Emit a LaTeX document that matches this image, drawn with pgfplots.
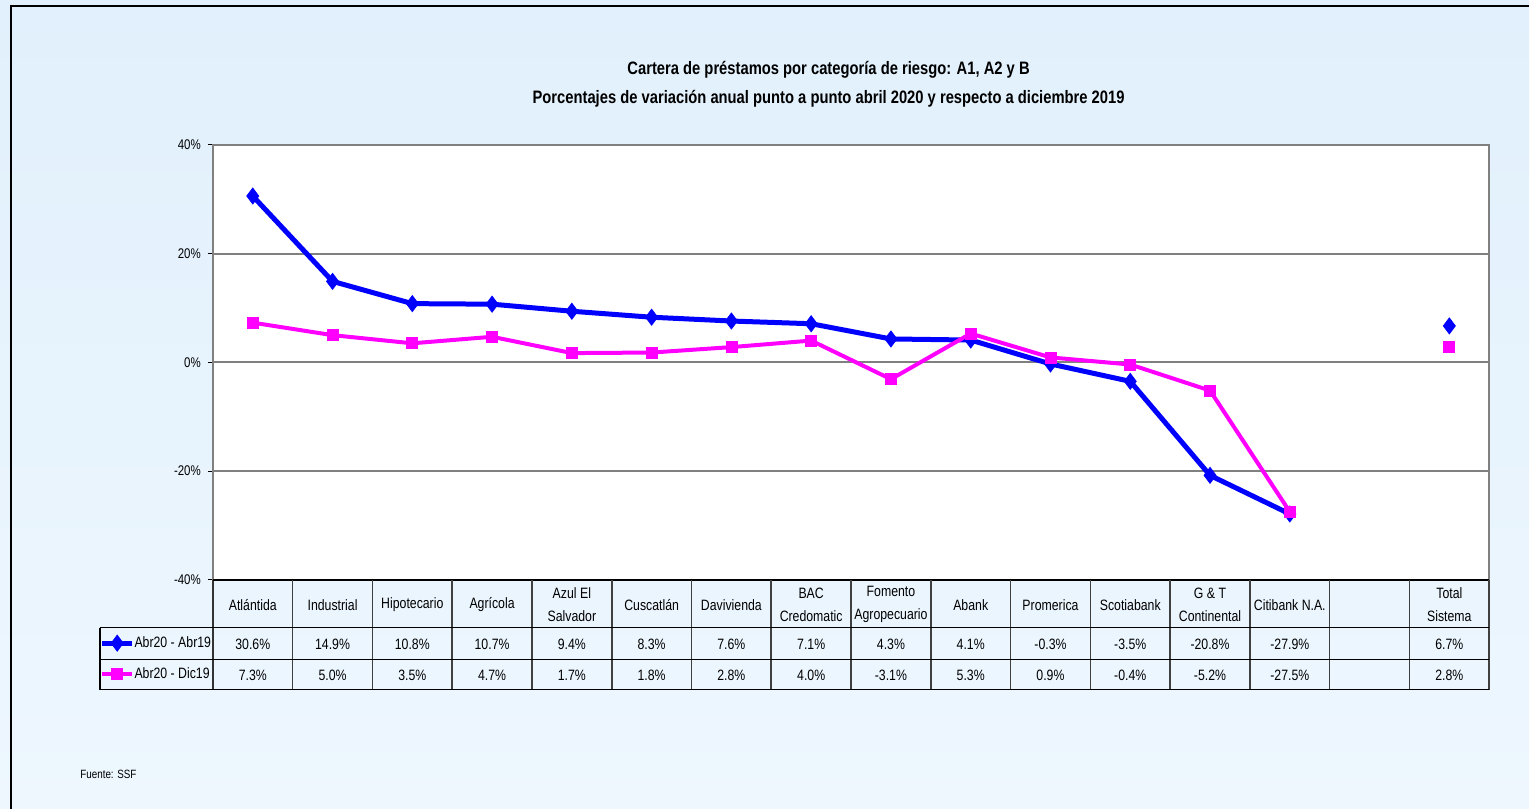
\documentclass[border=0pt]{standalone}
\usepackage{fontspec}
\setmainfont{Liberation Sans}[FakeStretch=0.82]
\usepackage{pgfplots}
\pgfplotsset{compat=1.18}

\definecolor{bgtop}{RGB}{225,240,252}
\definecolor{bgbot}{RGB}{238,247,254}
\definecolor{serA}{RGB}{0,0,255}
\definecolor{serB}{RGB}{255,0,255}
\definecolor{gridc}{RGB}{128,128,128}

\begin{document}
\begin{tikzpicture}
% page in pixel units: 1 px = 0.5pt, y downwards
\begin{scope}[x=0.5pt,y=-0.5pt]
  \shade[top color=bgtop,bottom color=bgbot] (0,0) rectangle (1530,809);
  \draw[line width=0.8pt] (11,809) -- (11,6) -- (1530,6);
  \node[font=\fontsize{9}{10}\selectfont\bfseries] at (829,70) {Cartera de préstamos por categoría de riesgo: A1, A2 y B};
  \node[font=\fontsize{9}{10}\selectfont\bfseries] at (829,99) {Porcentajes de variación anual punto a punto abril 2020 y respecto  a diciembre 2019};
  \node[anchor=west,inner sep=0pt,font=\fontsize{6}{7}\selectfont] at (80,775) {Fuente: SSF};
\end{scope}

\begin{axis}[
  at={(106.5pt,-290pt)}, anchor=south west,
  width=638.5pt, height=217.5pt, scale only axis,
  xmin=-0.5, xmax=15.5, ymin=-40, ymax=40,
  xtick=\empty, ytick={-40,-20,0,20,40},
  yticklabel={\pgfmathprintnumber{\tick}\%},
  /pgf/number format/assume math mode=true,
  tick label style={font=\fontsize{7}{8}\selectfont},
  axis background/.style={fill=white},
  axis line style={gridc,line width=1pt},
  ymajorgrids, major grid style={gridc,line width=1pt},
  tick align=outside, ytick pos=left,
  major tick length=2.5pt, tick style={black,line width=0.5pt},
  clip=false, unbounded coords=jump,
  legend style={at={(-0.0885,-0.1103)}, anchor=north west, draw=none, fill=none,
    inner sep=0pt, outer sep=0pt, row sep=0pt,
    font=\fontsize{7.5}{9}\selectfont,
    nodes={inner sep=0pt, minimum height=15.5pt}},
  legend cell align=left,
  legend image code/.code={\draw[#1,mark repeat=2,mark phase=2]
    plot coordinates {(0cm,0cm) (0.26cm,0cm) (0.52cm,0cm)};},
  /tikz/every even column/.append style={column sep=1pt},
]
\addplot[serA, line width=2.5pt, mark=diamond*, mark size=4pt,
  mark options={solid,line width=0.4pt}] coordinates {
  (0,30.6) (1,14.9) (2,10.8) (3,10.7) (4,9.4) (5,8.3) (6,7.6) (7,7.1)
  (8,4.3) (9,4.1) (10,-0.3) (11,-3.5) (12,-20.8) (13,-27.9) (14,nan) (15,6.7)
};
\addlegendentry{Abr20 - Abr19}
\addplot[serB, line width=2pt, mark=square*, mark size=2.75pt,
  mark options={solid,line width=0.4pt}] coordinates {
  (0,7.3) (1,5.0) (2,3.5) (3,4.7) (4,1.7) (5,1.8) (6,2.8) (7,4.0)
  (8,-3.1) (9,5.3) (10,0.9) (11,-0.4) (12,-5.2) (13,-27.5) (14,nan) (15,2.8)
};
\addlegendentry{Abr20 - Dic19}
\end{axis}

% data table under the plot
\begin{scope}[x=0.5pt,y=-0.5pt]
  \def\cw{79.8125}
  \draw[line width=0.8pt,black!80] (213,580) -- (213,690);
  \draw[line width=0.8pt] (213,580) -- (1490,580);
  \foreach \k in {1,...,16}
    \draw[line width=0.8pt,black!75] ({213+\cw*\k},580) -- ({213+\cw*\k},690);
  \draw[line width=0.8pt] (100,628) -- (1490,628) (100,660) -- (1490,660) (100,690) -- (1490,690);
  \draw[line width=0.8pt] (100,628) -- (100,690);
  \foreach \lab [count=\i from 0] in {Atlántida,Industrial,Hipotecario,Agrícola,{Azul El\\Salvador},Cuscatlán,Davivienda,{BAC\\Credomatic},{Fomento\\Agropecuario},Abank,Promerica,Scotiabank,{G \& T\\Continental},Citibank N.A.,{},{Total\\Sistema}}
    \node[align=center,font=\fontsize{7.5}{11.5}\selectfont] at ({213+\cw*(\i+0.5)},605) {\lab};
  \foreach \v [count=\i from 0] in {30.6,14.9,10.8,10.7,9.4,8.3,7.6,7.1,4.3,4.1,-0.3,-3.5,-20.8,-27.9,{},6.7}
    \node[font=\fontsize{7.5}{9}\selectfont] at ({213+\cw*(\i+0.5)},645) {\ifx\v\empty\else\v\%\fi};
  \foreach \v [count=\i from 0] in {7.3,5.0,3.5,4.7,1.7,1.8,2.8,4.0,-3.1,5.3,0.9,-0.4,-5.2,-27.5,{},2.8}
    \node[font=\fontsize{7.5}{9}\selectfont] at ({213+\cw*(\i+0.5)},676) {\ifx\v\empty\else\v\%\fi};
\end{scope}
\end{tikzpicture}
\end{document}
